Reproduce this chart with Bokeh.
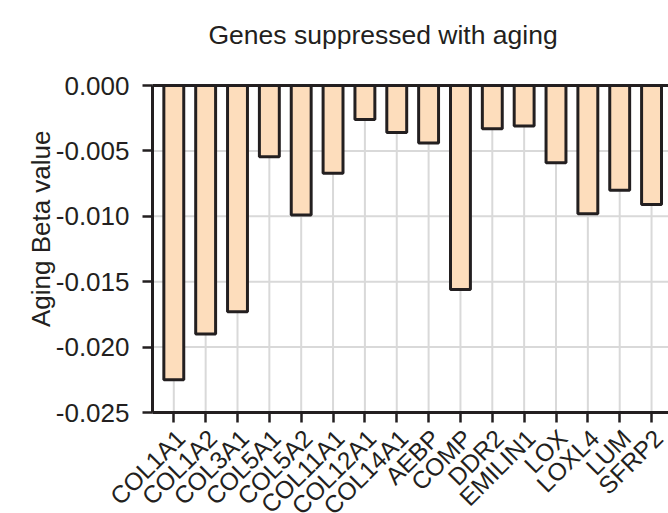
from math import pi
from bokeh.plotting import figure
from bokeh.models import (Range1d, FixedTicker, PrintfTickFormatter,
                          ColumnDataSource, Label)
from bokeh.core.properties import value
from bokeh.embed import file_html
from bokeh.resources import INLINE

# ---- data ----
genes = ["COL1A1", "COL1A2", "COL3A1", "COL5A1", "COL5A2", "COL11A1",
         "COL12A1", "COL14A1", "AEBP", "COMP", "DDR2", "EMILIN1",
         "LOX", "LOXL4", "LUM", "SFRP2"]
beta = [-0.0225, -0.0190, -0.0173, -0.00545, -0.0099, -0.0067,
        -0.0026, -0.0036, -0.0044, -0.0156, -0.0033, -0.0031,
        -0.0059, -0.0098, -0.0080, -0.0091]
y_ticks = [0.0, -0.005, -0.010, -0.015, -0.020, -0.025]
title_text = "Genes suppressed with aging"
y_label = "Aging Beta value"

# ---- style ----
INK = "#231F20"
FILL = "#FDDDBC"
GRID = "#D9D9D9"
FONT = "Liberation Sans"
FS = "26px"
FS_CAT = "24.5px"

# ---- layout (pixels) ----
W, H = 668, 513
AXIS_X_PX = 152      # where the value axis sits
TICK0_PX = 173.3     # first category tick
STEP_PX = 31.85      # pixels per category
TOP_PX = 85          # y = 0
BOT_PX = 412         # y = -0.025

Y_MAX, Y_MIN = max(y_ticks), min(y_ticks)
PX_PER_Y = (BOT_PX - TOP_PX) / (Y_MAX - Y_MIN)


def x_of_px(px):
    return (px - TICK0_PX) / STEP_PX


def y_of_px(py):
    return Y_MAX - (py - TOP_PX) / PX_PER_Y


X_AXIS = x_of_px(AXIS_X_PX)
X_RIGHT = x_of_px(W)

idx = list(range(len(genes)))
src = ColumnDataSource(dict(x=idx, gene=genes, beta=beta))

p = figure(width=W, height=H, output_backend="svg", toolbar_location=None,
           title=None,
           x_range=Range1d(x_of_px(0), X_RIGHT),
           y_range=Range1d(y_of_px(H), y_of_px(0)),
           min_border=0, min_border_left=0, min_border_right=0,
           min_border_top=0, min_border_bottom=0)
p.outline_line_color = None
p.background_fill_color = "white"
p.border_fill_color = "white"
p.grid.visible = False

# grid lines (only inside the plotting box)
p.segment(x0=idx, x1=idx, y0=Y_MIN, y1=Y_MAX, line_color=GRID, line_width=2)
p.segment(x0=X_AXIS, x1=X_RIGHT, y0=y_ticks, y1=y_ticks,
          line_color=GRID, line_width=2)

# bars
p.vbar(x="x", top=0, bottom="beta", width=0.625, fill_color=FILL,
       line_color=INK, line_width=3, source=src)

# top frame line
p.segment(x0=[X_AXIS], x1=[X_RIGHT], y0=[Y_MAX], y1=[Y_MAX],
          line_color=INK, line_width=3)

# y axis
p.yaxis.fixed_location = X_AXIS
p.yaxis.bounds = (Y_MIN, Y_MAX)
p.yaxis.ticker = FixedTicker(ticks=y_ticks)
p.yaxis.formatter = PrintfTickFormatter(format="%.3f")
p.yaxis.major_label_text_font = FONT
p.yaxis.major_label_text_font_size = FS
p.yaxis.major_label_text_color = INK
p.yaxis.major_label_standoff = 13
p.yaxis.axis_line_color = INK
p.yaxis.axis_line_width = 3
p.yaxis.major_tick_line_color = INK
p.yaxis.major_tick_line_width = 2.5
p.yaxis.major_tick_out = 10
p.yaxis.major_tick_in = 0
p.yaxis.minor_tick_line_color = None

# x axis
p.xaxis.fixed_location = Y_MIN
p.xaxis.bounds = (X_AXIS, X_RIGHT)
p.xaxis.ticker = FixedTicker(ticks=idx)
p.xaxis.axis_line_color = INK
p.xaxis.axis_line_width = 3
p.xaxis.major_tick_line_color = INK
p.xaxis.major_tick_line_width = 2.5
p.xaxis.major_tick_out = 10
p.xaxis.major_tick_in = 0
p.xaxis.minor_tick_line_color = None
p.xaxis.major_label_text_color = None

# category labels, rotated 45 degrees, right end under each tick
p.text(x="x", y=Y_MIN, text="gene", source=src, angle=pi / 4,
       text_align="right", text_baseline="top", x_offset=-2.5, y_offset=12,
       text_font=value(FONT), text_font_size=FS_CAT, text_color=INK)

# axis title and chart title
p.add_layout(Label(x=x_of_px(40), y=y_of_px(228.3), text=y_label, angle=pi / 2,
                   text_align="center", text_baseline="middle",
                   text_font=FONT, text_font_size=FS, text_color=INK))
p.add_layout(Label(x=x_of_px(208), y=y_of_px(34), text=title_text,
                   text_align="left", text_baseline="alphabetic",
                   text_font=FONT, text_font_size="26.5px", text_color=INK))

open("out.html", "w").write(file_html(p, INLINE))
